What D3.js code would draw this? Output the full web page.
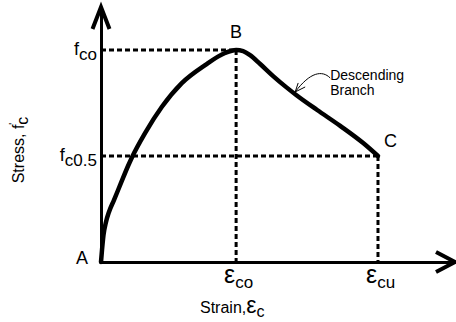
<!DOCTYPE html>
<html>
<head>
<meta charset="utf-8">
<script src="https://cdn.jsdelivr.net/npm/d3@7"></script>
<style>
  body { margin: 0; background: #fff; }
  svg { display: block; font-family: "Liberation Sans", Arial, sans-serif; }
</style>
</head>
<body>
<div id="chart"></div>
<script>
// stress-strain curve, strain in 1e-3, stress normalised by f'co
const strain = [0, 0.015, 0.037, 0.074, 0.118, 0.192, 0.296, 0.400, 0.454, 0.652, 0.899, 1.196, 1.541, 1.837, 2.0,
                2.104, 2.207, 2.356, 2.548, 2.741, 2.889, 3.2, 3.541, 3.881, 4.1];
const stress = [0, 0.057, 0.127, 0.189, 0.236, 0.292, 0.373, 0.453, 0.491, 0.608, 0.731, 0.844, 0.929, 0.986, 1.0,
                0.995, 0.976, 0.934, 0.877, 0.825, 0.788, 0.717, 0.642, 0.561, 0.5];

// key points A, B, C
const pointNames = ["A", "B", "C"];
const pointStrain = [0, 2.0, 4.1];
const pointStress = [0, 1.0, 0.5];

// tick labels
const stressTicks = [1.0, 0.5];
const stressTickSubs = ["co", "c0.5"];
const strainTicks = [2.0, 4.1];
const strainTickSubs = ["co", "cu"];

const annotationLines = ["Descending", "Branch"];
const annotationIndex = 20; // point on the descending branch the arrow points to

const strainMax = 5.24, stressMax = 1.203;

const width = 456, height = 322;
const svg = d3.select("#chart").append("svg")
    .attr("width", width)
    .attr("height", height);

const x = d3.scaleLinear().domain([0, strainMax]).range([101, 455]);
const y = d3.scaleLinear().domain([0, stressMax]).range([262, 7]);

const data = strain.map((s, i) => ({ strain: s, stress: stress[i] }));

// dashed guides
const guides = svg.append("g")
    .attr("stroke", "#000")
    .attr("stroke-width", 3)
    .attr("stroke-dasharray", "5,3")
    .attr("fill", "none");
pointStrain.forEach((s, i) => {
    if (i == 0) return;
    guides.append("line")
        .attr("x1", x(0)).attr("x2", x(s))
        .attr("y1", y(pointStress[i])).attr("y2", y(pointStress[i]));
    guides.append("line")
        .attr("x1", x(s)).attr("x2", x(s))
        .attr("y1", y(pointStress[i])).attr("y2", y(0));
});

// axes
const xAxis = svg.append("g")
    .attr("transform", "translate(0," + y(0) + ")")
    .call(d3.axisBottom(x).tickValues([]).tickSize(0).tickSizeOuter(0));
const yAxis = svg.append("g")
    .attr("transform", "translate(" + x(0) + ",0)")
    .call(d3.axisLeft(y).tickValues([]).tickSize(0).tickSizeOuter(0));
svg.selectAll(".domain").attr("stroke", "#000").attr("stroke-width", 3);

// arrow heads
const arrowHead = d3.line();
svg.append("path")
    .attr("d", arrowHead([[x(0) - 8.5, y(stressMax) + 22], [x(0), y(stressMax)], [x(0) + 8.5, y(stressMax) + 22]]))
    .attr("fill", "none").attr("stroke", "#000").attr("stroke-width", 4)
    .attr("stroke-linejoin", "miter");
svg.append("path")
    .attr("d", arrowHead([[x(strainMax) - 19, y(0) - 10], [x(strainMax), y(0)], [x(strainMax) - 19, y(0) + 10]]))
    .attr("fill", "none").attr("stroke", "#000").attr("stroke-width", 4)
    .attr("stroke-linejoin", "miter");

// curve
const line = d3.line()
    .x(d => x(d.strain))
    .y(d => y(d.stress))
    .curve(d3.curveMonotoneX);
svg.append("path")
    .datum(data)
    .attr("d", line)
    .attr("fill", "none")
    .attr("stroke", "#000")
    .attr("stroke-width", 4.5)
    .attr("stroke-linecap", "round");

// point labels
const labelDx = [-13, 0, 6];
const labelDy = [2, -12, -9];
const labelAnchor = ["end", "middle", "start"];
pointNames.forEach((n, i) => {
    svg.append("text")
        .attr("x", x(pointStrain[i]) + labelDx[i])
        .attr("y", y(pointStress[i]) + labelDy[i])
        .attr("text-anchor", labelAnchor[i])
        .attr("font-size", 18)
        .text(n);
});

// stress tick labels
stressTicks.forEach((v, i) => {
    const t = svg.append("text")
        .attr("x", x(0) - 4)
        .attr("y", y(v) + 5)
        .attr("text-anchor", "end")
        .attr("font-size", 18);
    t.append("tspan").text("f");
    t.append("tspan").attr("dy", 5).attr("font-size", 17).text(stressTickSubs[i]);
});

// strain tick labels
strainTicks.forEach((v, i) => {
    const t = svg.append("text")
        .attr("x", x(v) - 12)
        .attr("y", y(0) + 21);
    t.append("tspan").attr("font-size", 25).text("ε");
    t.append("tspan").attr("dy", 5).attr("font-size", 17).text(strainTickSubs[i]);
});

// axis titles
const xt = svg.append("text")
    .attr("x", 200)
    .attr("y", 313)
    .attr("font-size", 16);
xt.append("tspan").text("Strain,");
xt.append("tspan").attr("font-size", 23).text("ε");
xt.append("tspan").attr("dy", 4).attr("font-size", 16).text("c");

const yt = svg.append("text")
    .attr("transform", "translate(24," + 150 + ") rotate(-90)")
    .attr("text-anchor", "middle")
    .attr("font-size", 16);
yt.append("tspan").text("Stress, f");
yt.append("tspan").attr("dy", -7).attr("font-size", 10).text("'");
yt.append("tspan").attr("dx", -2).attr("dy", 11).attr("font-size", 16).text("c");

// annotation
const ap = data[annotationIndex];
const ax = x(ap.strain) - 1, ay = y(ap.stress) - 3;
const leader = d3.path();
leader.moveTo(ax + 35, ay - 14);
leader.bezierCurveTo(ax + 27, ay - 22, ax + 15, ay - 20, ax, ay);
svg.append("path")
    .attr("d", leader.toString())
    .attr("fill", "none").attr("stroke", "#000").attr("stroke-width", 1);
svg.append("path")
    .attr("d", arrowHead([[ax + 3, ay - 9], [ax, ay], [ax + 10, ay - 5]]))
    .attr("fill", "none").attr("stroke", "#000").attr("stroke-width", 1);

const at = svg.append("text")
    .attr("x", ax + 35)
    .attr("y", ay - 12)
    .attr("font-size", 14);
annotationLines.forEach((s, i) => {
    at.append("tspan").attr("x", ax + 35).attr("dy", i == 0 ? 0 : 15).text(s);
});
</script>
</body>
</html>
